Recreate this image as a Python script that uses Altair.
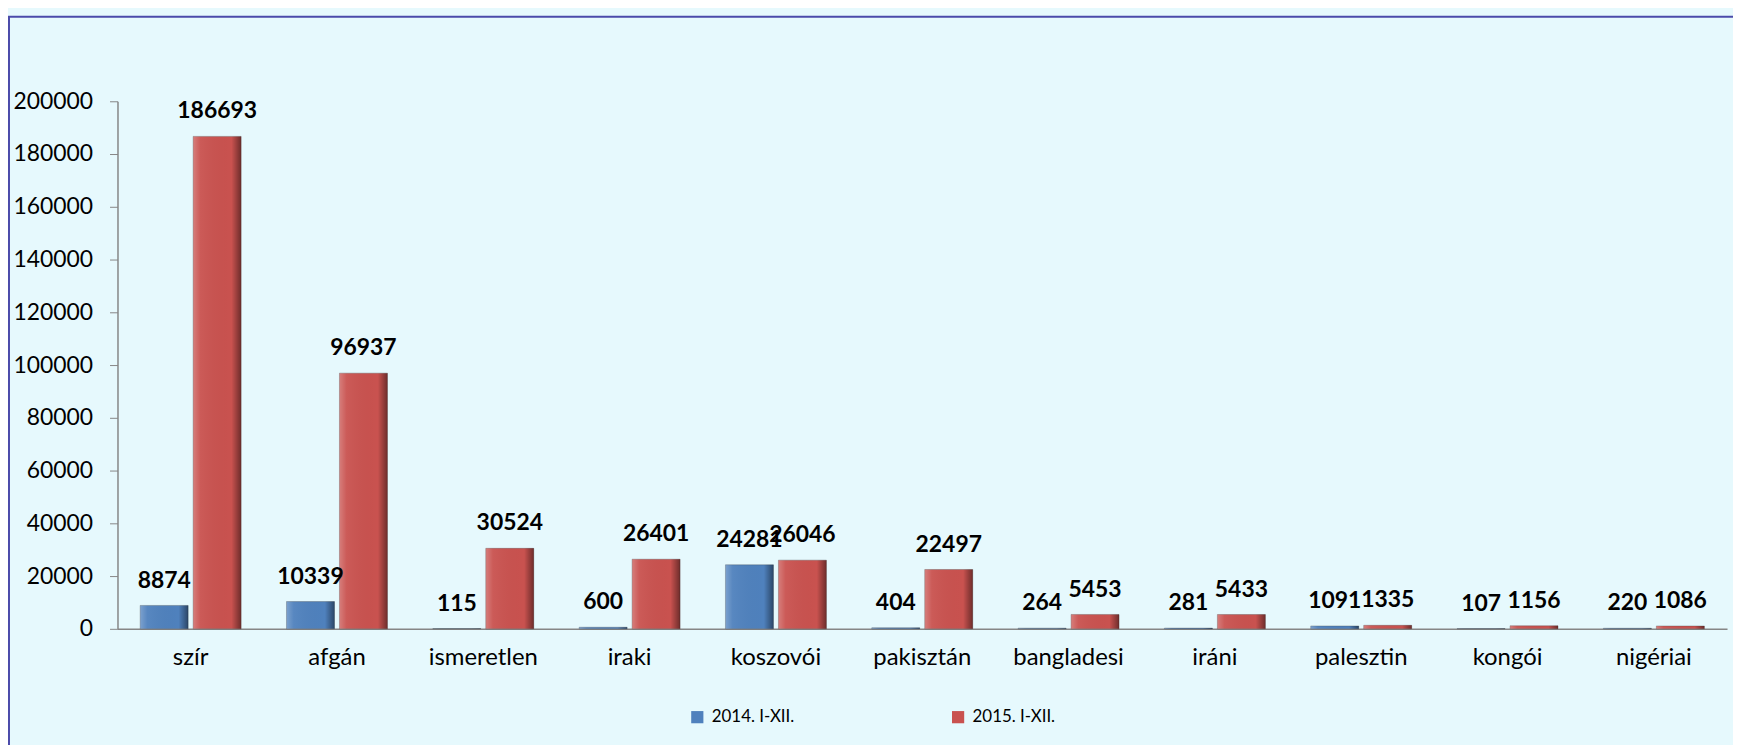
import altair as alt
import pandas as pd

categories = ["szír", "afgán", "ismeretlen", "iraki", "koszovói", "pakisztán",
              "bangladesi", "iráni", "palesztin", "kongói", "nigériai"]
series_names = ["2014. I-XII.", "2015. I-XII."]
values_2014 = [8874, 10339, 115, 600, 24281, 404, 264, 281, 1091, 107, 220]
values_2015 = [186693, 96937, 30524, 26401, 26046, 22497, 5453, 5433, 1335, 1156, 1086]
y_ticks = list(range(0, 200001, 20000))

rows = []
for c, a, b in zip(categories, values_2014, values_2015):
    rows.append({"cat": c, "series": series_names[0], "value": a})
    rows.append({"cat": c, "series": series_names[1], "value": b})
df = pd.DataFrame(rows)

FONT = "Lato"

x_enc = alt.X("cat:N", sort=categories, title=None,
              scale=alt.Scale(paddingInner=0.31, paddingOuter=0.155),
              axis=alt.Axis(labelAngle=0, labelFontSize=24, labelFont=FONT,
                            labelColor="#000000", labelPadding=17, ticks=False,
                            domainColor="#868686", domainWidth=1.5))
xoff_enc = alt.XOffset("series:N", sort=series_names,
                       scale=alt.Scale(paddingInner=0.094, paddingOuter=0))
y_enc = alt.Y("value:Q", title=None,
              scale=alt.Scale(domain=[0, 200000], nice=False),
              axis=alt.Axis(values=y_ticks, format="d", grid=False, labelFontSize=23,
                            labelFont=FONT, labelColor="#000000", tickSize=8,
                            tickColor="#868686", domainColor="#868686",
                            domainWidth=1.5, labelPadding=17))

base = alt.Chart(df)

bars = base.mark_bar(stroke="#3a3a3a", strokeWidth=0.6, strokeOpacity=0.5).encode(
    x=x_enc, xOffset=xoff_enc, y=y_enc,
    color=alt.Color("series:N", sort=series_names,
                    scale=alt.Scale(domain=series_names, range=["#4F81BD", "#C9524F"]),
                    legend=alt.Legend(title=None, orient="none", legendX=574, legendY=610,
                                      direction="horizontal", symbolType="square",
                                      symbolSize=150, symbolStrokeWidth=0,
                                      labelFontSize=17, labelFont=FONT,
                                      labelColor="#000000", columnPadding=155,
                                      labelOffset=6)),
)

shade = base.mark_bar(
    fill=alt.Gradient(
        gradient="linear", x1=0, x2=1, y1=0, y2=0,
        stops=[alt.GradientStop(offset=0, color="rgba(255,255,255,0.25)"),
               alt.GradientStop(offset=0.15, color="rgba(255,255,255,0.05)"),
               alt.GradientStop(offset=0.8, color="rgba(0,0,0,0.0)"),
               alt.GradientStop(offset=1, color="rgba(0,0,0,0.45)")])
).encode(x=x_enc, xOffset=xoff_enc, y=y_enc)

labels = base.mark_text(fontSize=23, fontWeight="bold", font=FONT, color="#000000",
                        dy=-18, baseline="alphabetic").encode(
    x=x_enc, xOffset=xoff_enc, y=y_enc, text=alt.Text("value:Q", format="d"))

frame_data = alt.Data(values=[{"k": 1}])
top_line = alt.Chart(frame_data).mark_rule(color="#4B4BAA", strokeWidth=2).encode(
    x=alt.value(-110), x2=alt.value(1630), y=alt.value(-85))
left_line = alt.Chart(frame_data).mark_rule(color="#4B4BAA", strokeWidth=2).encode(
    x=alt.value(-109), y=alt.value(-85), y2=alt.value(655))

chart = alt.layer(top_line, left_line, bars, shade, labels).properties(
    width=1617, height=530,
    autosize=alt.AutoSizeParams(type="none"),
    padding={"left": 110, "top": 92, "right": 6, "bottom": 115},
    background="#E6F9FD",
).configure_view(stroke=None)

chart.save("out.html", embed_options={"renderer": "svg", "actions": False})
